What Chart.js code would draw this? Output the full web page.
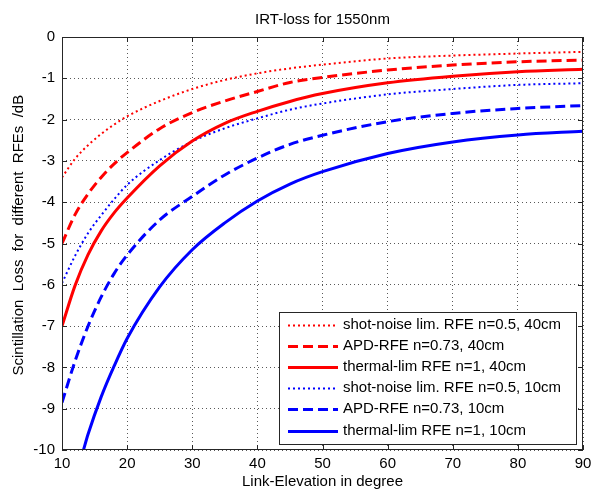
<!DOCTYPE html>
<html>
<head>
<meta charset="utf-8">
<script src="https://cdn.jsdelivr.net/npm/chart.js@4.4.1/dist/chart.umd.min.js"></script>
<style>
  html, body { margin: 0; padding: 0; background: #fff; }
</style>
</head>
<body>
<canvas id="chart" width="592" height="493"></canvas>
<script>
// elevation in degree
const elevation = [10, 12, 14, 16, 18, 20, 25, 30, 35, 40, 45, 50, 60, 70, 80, 90];
const elevationThermal10 = [13.3, 14, 16, 18, 20, 25, 30, 35, 40, 45, 50, 60, 70, 80, 90];

// scintillation loss in dB
const shot40 = [-3.4, -2.95, -2.62, -2.35, -2.12, -1.92, -1.55, -1.26, -1.04, -0.88, -0.76, -0.67, -0.52, -0.45, -0.4, -0.36];
const apd40 = [-5.0, -4.3, -3.8, -3.4, -3.07, -2.8, -2.22, -1.83, -1.55, -1.32, -1.1, -0.98, -0.8, -0.68, -0.6, -0.56];
const thermal40 = [-7.0, -6.02, -5.27, -4.7, -4.26, -3.9, -3.12, -2.52, -2.09, -1.8, -1.56, -1.37, -1.11, -0.95, -0.84, -0.78];
const shot10 = [-5.96, -5.3, -4.75, -4.32, -3.93, -3.58, -2.98, -2.53, -2.21, -1.97, -1.76, -1.61, -1.39, -1.26, -1.16, -1.12];
const apd10 = [-8.85, -7.85, -7.0, -6.3, -5.73, -5.28, -4.43, -3.86, -3.34, -2.93, -2.6, -2.38, -2.05, -1.85, -1.73, -1.66];
const thermal10 = [-10, -9.62, -8.72, -7.97, -7.3, -6.05, -5.15, -4.5, -3.97, -3.56, -3.26, -2.82, -2.54, -2.37, -2.28];

const seriesLabels = [
    "shot-noise lim. RFE n=0.5, 40cm",
    "APD-RFE n=0.73, 40cm",
    "thermal-lim RFE n=1, 40cm",
    "shot-noise lim. RFE n=0.5, 10cm",
    "APD-RFE n=0.73, 10cm",
    "thermal-lim RFE n=1, 10cm",
];

const FONT = "'Liberation Sans', Arial, sans-serif";
const RED = "#ff0000";
const BLUE = "#0000ff";
const DOT = [2, 3];
const DASH = [10, 5];

function pts(xs, ys) {
    return xs.map((x, i) => ({ x: x, y: ys[i] }));
}

function ds(label, xs, ys, color, width, dash) {
    return {
        label: label,
        data: pts(xs, ys),
        borderColor: color,
        backgroundColor: color,
        borderWidth: width,
        borderDash: dash,
        pointRadius: 0,
        fill: false,
        cubicInterpolationMode: "monotone",
    };
}

// kotak sumbu + tick ke dalam ala MATLAB
const boxPlugin = {
    id: "box",
    afterDraw(chart) {
        const { ctx, chartArea: a, scales } = chart;
        ctx.save();
        ctx.strokeStyle = "#262626";
        ctx.lineWidth = 1;
        ctx.setLineDash([]);
        ctx.strokeRect(a.left + 0.5, a.top + 0.5, a.right - a.left - 1, a.bottom - a.top - 1);
        ctx.beginPath();
        scales.x.ticks.forEach((t) => {
            const px = Math.round(scales.x.getPixelForValue(t.value)) + 0.5;
            ctx.moveTo(px, a.bottom); ctx.lineTo(px, a.bottom - 5);
            ctx.moveTo(px, a.top); ctx.lineTo(px, a.top + 5);
        });
        scales.y.ticks.forEach((t) => {
            const py = Math.round(scales.y.getPixelForValue(t.value)) + 0.5;
            ctx.moveTo(a.left, py); ctx.lineTo(a.left + 5, py);
            ctx.moveTo(a.right, py); ctx.lineTo(a.right - 5, py);
        });
        ctx.stroke();
        ctx.restore();
    },
};

// legenda di dalam area grafik
const legendPlugin = {
    id: "insideLegend",
    afterDatasetsDraw(chart) {
        const { ctx } = chart;
        const x0 = 279, y0 = 312, w = 297, h = 132;
        ctx.save();
        ctx.fillStyle = "#fff";
        ctx.fillRect(x0, y0, w, h);
        ctx.strokeStyle = "#262626";
        ctx.lineWidth = 1;
        ctx.setLineDash([]);
        ctx.strokeRect(x0 + 0.5, y0 + 0.5, w, h);
        ctx.font = "15px " + FONT;
        ctx.textBaseline = "middle";
        ctx.textAlign = "left";
        chart.data.datasets.forEach((d, i) => {
            const y = y0 + 12.5 + i * 21.2;
            ctx.strokeStyle = d.borderColor;
            ctx.lineWidth = d.borderWidth;
            ctx.setLineDash(d.borderDash);
            ctx.beginPath();
            ctx.moveTo(288, Math.round(y) + 0.5);
            ctx.lineTo(338, Math.round(y) + 0.5);
            ctx.stroke();
            ctx.fillStyle = "#000";
            ctx.fillText(d.label, 343, y);
        });
        ctx.restore();
    },
};

const ctx = document.getElementById("chart").getContext("2d");

new Chart(ctx, {
    type: "line",
    data: {
        datasets: [
            ds(seriesLabels[0], elevation, shot40, RED, 2, DOT),
            ds(seriesLabels[1], elevation, apd40, RED, 3, DASH),
            ds(seriesLabels[2], elevation, thermal40, RED, 3, []),
            ds(seriesLabels[3], elevation, shot10, BLUE, 2, DOT),
            ds(seriesLabels[4], elevation, apd10, BLUE, 3, DASH),
            ds(seriesLabels[5], elevationThermal10, thermal10, BLUE, 3, []),
        ],
    },
    options: {
        responsive: false,
        animation: false,
        devicePixelRatio: 1,
        layout: { padding: { left: 0, right: 9, top: 0, bottom: 0 } },
        plugins: {
            legend: { display: false },
            tooltip: { enabled: false },
            title: {
                display: true,
                text: "IRT-loss for 1550nm",
                fullSize: false,
                color: "#000",
                font: { family: FONT, size: 15, weight: "normal" },
                padding: { top: 11, bottom: 8 },
            },
        },
        scales: {
            x: {
                type: "linear",
                min: 10,
                max: 90,
                afterFit: (s) => {
                    s.height = 43;
                    s.paddingLeft = 0;
                    s.paddingRight = 0;
                },
                ticks: {
                    stepSize: 10,
                    padding: 5,
                    color: "#000",
                    font: { family: FONT, size: 15 },
                },
                grid: {
                    color: "rgba(0,0,0,0.65)",
                    drawTicks: false,
                },
                border: { display: false, dash: [1, 3] },
                title: {
                    display: true,
                    text: "Link-Elevation in degree",
                    color: "#000",
                    font: { family: FONT, size: 15 },
                    padding: { top: 0, bottom: 2 },
                },
            },
            y: {
                min: -10,
                max: 0,
                afterFit: (s) => { s.width = 62; },
                ticks: {
                    stepSize: 1,
                    padding: 7,
                    color: "#000",
                    font: { family: FONT, size: 15 },
                },
                grid: {
                    color: "rgba(0,0,0,0.65)",
                    drawTicks: false,
                },
                border: { display: false, dash: [1, 3] },
                title: {
                    display: true,
                    text: "    Scintillation  Loss  for  different  RFEs  /dB",
                    color: "#000",
                    font: { family: FONT, size: 15 },
                    padding: { top: 10, bottom: 0 },
                },
            },
        },
    },
    plugins: [legendPlugin, boxPlugin],
});
</script>
</body>
</html>
